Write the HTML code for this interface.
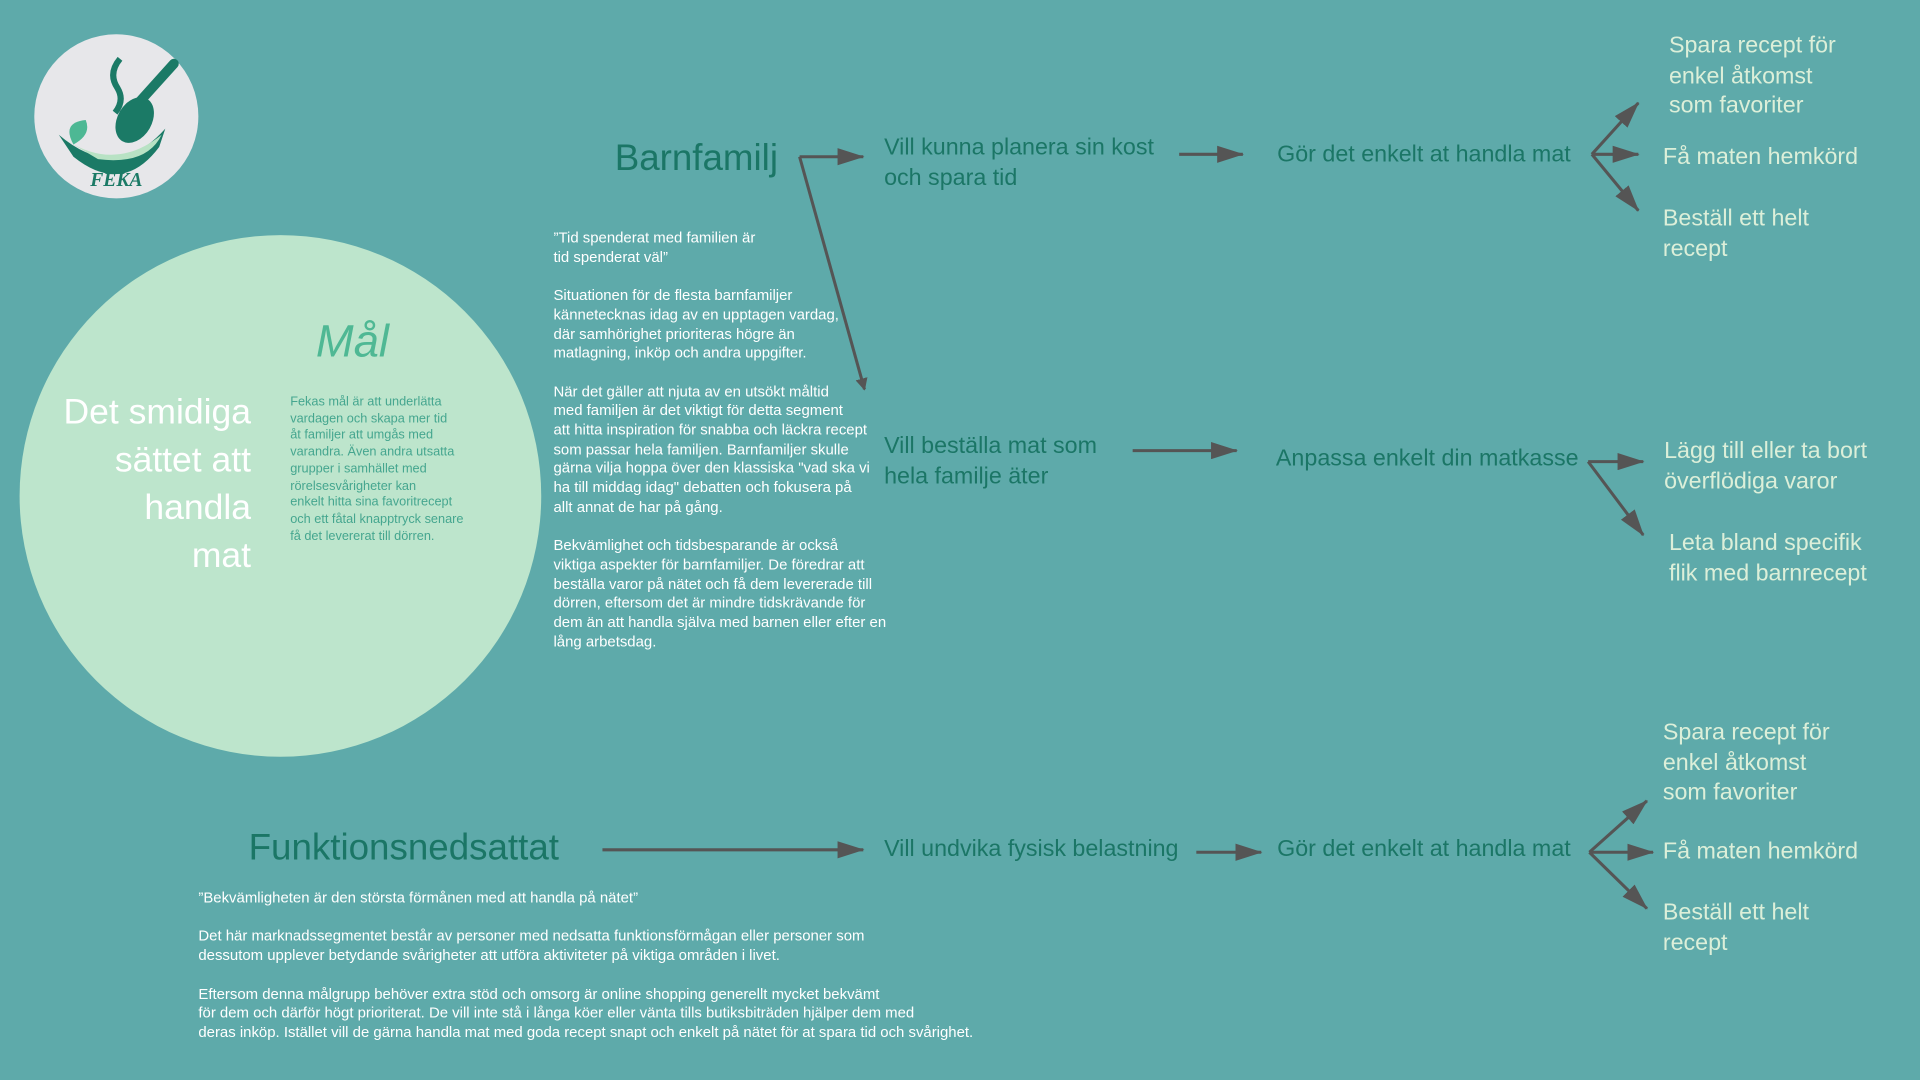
<!DOCTYPE html>
<html><head><meta charset="utf-8"><style>
html,body{margin:0;padding:0;background:#5eaaaa;width:1920px;height:1080px;overflow:hidden}
#s{position:absolute;left:0;top:0;width:1568px;height:882px;transform:scale(1.22449);transform-origin:0 0;font-family:"Liberation Sans",sans-serif}
.t{position:absolute;white-space:nowrap}
.dg{color:#1b7666}
.mid{font-size:19px;line-height:24.5px;color:#1b7666}
.lt{font-size:19px;line-height:24.5px;color:#dcefd9}
.p{font-size:12.2px;line-height:15.7px;color:#fff}
</style></head><body>
<div id="s">
<svg width="1568" height="882" style="position:absolute;left:0;top:0">
<defs><marker id="a" markerWidth="10" markerHeight="10" refX="9" refY="5" orient="auto" markerUnits="userSpaceOnUse"><path d="M0,0L10,5L0,10z" fill="#555"/></marker>
<marker id="b" markerWidth="22" markerHeight="14" refX="21" refY="7" orient="auto" markerUnits="userSpaceOnUse"><path d="M0,0L22,7L0,14z" fill="#555"/></marker></defs>
<circle cx="95" cy="95" r="67" fill="#e7e7ea"/>
<path d="M48,110 Q95,150 135,105 L130,120 Q100,160 60,128z" fill="#1b7a66"/>
<path d="M55,115 Q95,140 132,110 Q120,135 80,130z" fill="#b8e2c4"/>
<ellipse cx="110" cy="98" rx="14" ry="20" fill="#1b7a66" transform="rotate(30 110 98)"/>
<line x1="115" y1="82" x2="142" y2="52" stroke="#1b7a66" stroke-width="8" stroke-linecap="round"/>
<path d="M98,48 Q88,60 96,72 Q102,82 94,92" stroke="#1b7a66" stroke-width="5" fill="none"/>
<path d="M60,118 Q50,100 70,98 Q75,110 60,118z" fill="#4db894"/>
<text x="95" y="152" font-family="Liberation Serif" font-style="italic" font-weight="bold" font-size="16" fill="#1b7a66" text-anchor="middle">FEKA</text>
<circle cx="229" cy="405" r="213" fill="#bde5cc"/>
<g stroke="#555" stroke-width="2.5" fill="none">
<path d="M653,128L705,128" marker-end="url(#b)"/>
<path d="M653,128L706,318" marker-end="url(#a)"/>
<path d="M963,126L1015,126" marker-end="url(#b)"/>
<path d="M1300,126L1338,84" marker-end="url(#b)"/>
<path d="M1300,126L1338,126" marker-end="url(#b)"/>
<path d="M1300,126L1338,172" marker-end="url(#b)"/>
<path d="M925,368L1010,368" marker-end="url(#b)"/>
<path d="M1297,377L1342,377" marker-end="url(#b)"/>
<path d="M1297,377L1342,437" marker-end="url(#b)"/>
<path d="M492,694L705,694" marker-end="url(#b)"/>
<path d="M977,696L1030,696" marker-end="url(#b)"/>
<path d="M1298,696L1345,654" marker-end="url(#b)"/>
<path d="M1298,696L1350,696" marker-end="url(#b)"/>
<path d="M1298,696L1345,742" marker-end="url(#b)"/>
</g></svg>

<div class="t" style="left:258px;top:258px;font-size:37px;font-style:italic;color:#4fb894">Mål</div>
<div class="t" style="right:1363px;top:318px;font-size:29px;line-height:39px;color:#fff;text-align:right">Det smidiga<br>sättet att<br>handla<br>mat</div>
<div class="t" style="left:237px;top:322px;font-size:10.4px;line-height:13.7px;color:#45a68f">Fekas mål är att underlätta<br>vardagen och skapa mer tid<br>åt familjer att umgås med<br>varandra. Även andra utsatta<br>grupper i samhället med<br>rörelsesvårigheter kan<br>enkelt hitta sina favoritrecept<br>och ett fåtal knapptryck senare<br>få det levererat till dörren.</div>

<div class="t dg" style="left:502px;top:113px;font-size:30px">Barnfamilj</div>
<div class="t mid" style="left:722px;top:109px">Vill kunna planera sin kost<br>och spara tid</div>
<div class="t mid" style="left:1043px;top:115px">Gör det enkelt at handla mat</div>
<div class="t lt" style="left:1363px;top:26px">Spara recept för<br>enkel åtkomst<br>som favoriter</div>
<div class="t lt" style="left:1358px;top:117px">Få maten hemkörd</div>
<div class="t lt" style="left:1358px;top:167px">Beställ ett helt<br>recept</div>

<div class="t p" style="left:452px;top:187px">”Tid spenderat med familien är<br>tid spenderat väl”<br><br>Situationen för de flesta barnfamiljer<br>kännetecknas idag av en upptagen vardag,<br>där samhörighet prioriteras högre än<br>matlagning, inköp och andra uppgifter.<br><br>När det gäller att njuta av en utsökt måltid<br>med familjen är det viktigt för detta segment<br>att hitta inspiration för snabba och läckra recept<br>som passar hela familjen. Barnfamiljer skulle<br>gärna vilja hoppa över den klassiska "vad ska vi<br>ha till middag idag" debatten och fokusera på<br>allt annat de har på gång.<br><br>Bekvämlighet och tidsbesparande är också<br>viktiga aspekter för barnfamiljer. De föredrar att<br>beställa varor på nätet och få dem levererade till<br>dörren, eftersom det är mindre tidskrävande för<br>dem än att handla själva med barnen eller efter en<br>lång arbetsdag.</div>

<div class="t mid" style="left:722px;top:353px">Vill beställa mat som<br>hela familje äter</div>
<div class="t mid" style="left:1042px;top:363px">Anpassa enkelt din matkasse</div>
<div class="t lt" style="left:1359px;top:357px">Lägg till eller ta bort<br>överflödiga varor</div>
<div class="t lt" style="left:1363px;top:432px">Leta bland specifik<br>flik med barnrecept</div>

<div class="t dg" style="left:203px;top:676px;font-size:30px">Funktionsnedsattat</div>
<div class="t mid" style="left:722px;top:682px">Vill undvika fysisk belastning</div>
<div class="t mid" style="left:1043px;top:682px">Gör det enkelt at handla mat</div>
<div class="t lt" style="left:1358px;top:587px">Spara recept för<br>enkel åtkomst<br>som favoriter</div>
<div class="t lt" style="left:1358px;top:684px">Få maten hemkörd</div>
<div class="t lt" style="left:1358px;top:734px">Beställ ett helt<br>recept</div>

<div class="t p" style="left:162px;top:726px">”Bekvämligheten är den största förmånen med att handla på nätet”<br><br>Det här marknadssegmentet består av personer med nedsatta funktionsförmågan eller personer som<br>dessutom upplever betydande svårigheter att utföra aktiviteter på viktiga områden i livet.<br><br>Eftersom denna målgrupp behöver extra stöd och omsorg är online shopping generellt mycket bekvämt<br>för dem och därför högt prioriterat. De vill inte stå i långa köer eller vänta tills butiksbiträden hjälper dem med<br>deras inköp. Istället vill de gärna handla mat med goda recept snapt och enkelt på nätet för at spara tid och svårighet.</div>
</div>
</body></html>
